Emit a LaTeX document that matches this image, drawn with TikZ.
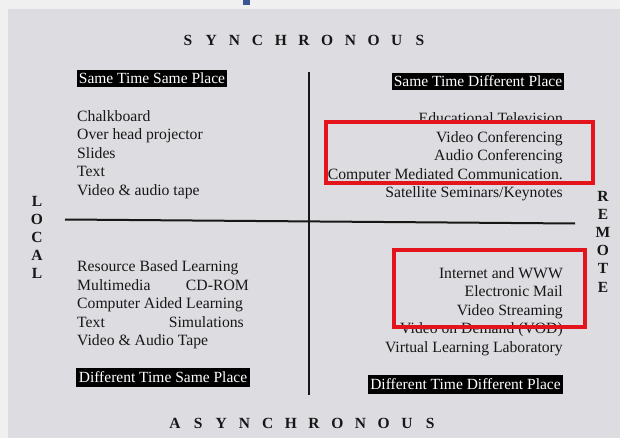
\documentclass[tikz,border=0pt]{standalone}
\usepackage{fontspec}
\setmainfont{Liberation Serif}
\definecolor{bg}{HTML}{DDDDE1}
\definecolor{strip}{HTML}{F0F0F0}
\definecolor{ink}{HTML}{171717}
\definecolor{redbox}{HTML}{E3141B}
\definecolor{bluemark}{HTML}{3A5594}
\newcommand\ltr[1]{\makebox[23.2pt]{#1}}
\begin{document}
\begin{tikzpicture}[x=1pt,y=-1pt,
  item/.style={font=\fontsize{15.7}{18}\selectfont, text=ink, inner sep=0pt},
  litem/.style={item, anchor=base west},
  ritem/.style={item, anchor=base east},
  tag/.style={fill=black, text=white, font=\fontsize{15.5}{18}\selectfont, inner sep=0pt},
  axis/.style={draw=ink, line width=2pt},
  hilite/.style={draw=redbox, line width=3.2pt},
  title/.style={font=\bfseries\fontsize{15.5}{16}\selectfont, text=ink, inner sep=0pt}]
\useasboundingbox (0,0) rectangle (620,438);
\fill[strip] (0,0) rectangle (620,438);
\fill[bg] (8,9) rectangle (620,438);
\fill[bluemark] (243,0) rectangle (250,5);

% titles
\node[title] (sync) at (304,40) {\ltr{S}\ltr{Y}\ltr{N}\ltr{C}\ltr{H}\ltr{R}\ltr{O}\ltr{N}\ltr{O}\ltr{U}\ltr{S}};
\node[title] (async) at (302.5,423) {\ltr{A}\ltr{S}\ltr{Y}\ltr{N}\ltr{C}\ltr{H}\ltr{R}\ltr{O}\ltr{N}\ltr{O}\ltr{U}\ltr{S}};
\foreach \l [count=\i] in {L,O,C,A,L}
  \node[title] (loc\i) at (37,{201+18*(\i-1)}) {\l};
\foreach \l [count=\i] in {R,E,M,O,T,E}
  \node[title] (rem\i) at (603,{196+18.2*(\i-1)}) {\l};

% axes
\coordinate (vtop) at (309,72);
\coordinate (vbot) at (309,395);
\coordinate (hl) at (65,219.5);
\coordinate (hr) at (575,223.5);
\draw[axis] (vtop) -- (vbot);
\draw[axis] (hl) -- (hr);

% quadrant tags
\node[tag, minimum width=150pt, minimum height=17pt] (stsp) at (152,78.5) {Same Time Same Place};
\node[tag, minimum width=172pt, minimum height=17pt] (stdp) at (478,81.5) {Same Time Different Place};
\node[tag, minimum width=174pt, minimum height=19pt] (dtsp) at (163,377.5) {Different Time Same Place};
\node[tag, minimum width=195pt, minimum height=19pt] (dtdp) at (465.5,384.5) {Different Time Different Place};

% top-left items
\foreach \t [count=\i] in {Chalkboard,Over head projector,Slides,Text,Video \& audio tape}
  \node[litem] (tl\i) at (77,{121.5+18.5*(\i-1)}) {\t};

% top-right items
\foreach \t [count=\i] in {Educational Television,Video Conferencing,Audio Conferencing,Computer Mediated Communication.,Satellite Seminars/Keynotes}
  \node[ritem] (tr\i) at (563,{124+18.5*(\i-1)}) {\t};

% bottom-left items
\foreach \t [count=\i] in {Resource Based Learning,Multimedia,Computer Aided Learning,Text,Video \& Audio Tape}
  \node[litem] (bl\i) at (77,{271.5+18.5*(\i-1)}) {\t};
\node[ritem] (cdrom) at (249,290) {CD-ROM};
\node[ritem] (simul) at (244,327) {Simulations};

% bottom-right items
\foreach \t [count=\i] in {Internet and WWW,Electronic Mail,Video Streaming,Video on Demand (VOD),Virtual Learning Laboratory}
  \node[ritem] (br\i) at (563,{278+18.6*(\i-1)}) {\t};

% highlights
\draw[hilite] (326,122) rectangle (593,183);
\draw[hilite] (394,250) rectangle (585,327);
\end{tikzpicture}
\end{document}
